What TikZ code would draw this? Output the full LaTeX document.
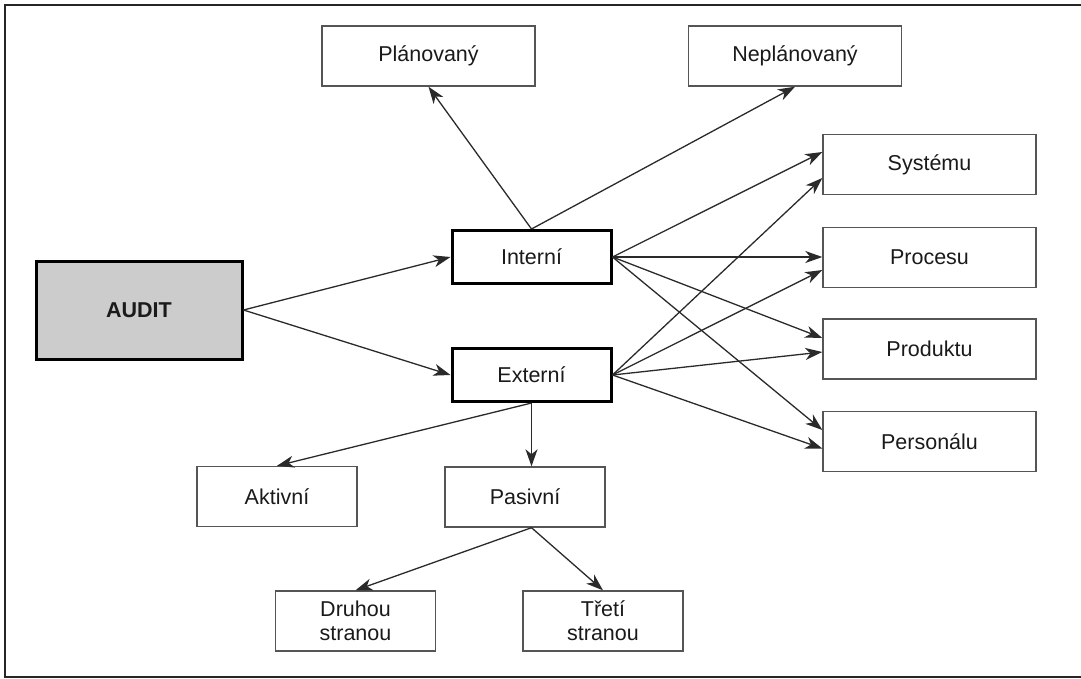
\documentclass[tikz,border=0pt]{standalone}
\usepackage{fontspec}
\setmainfont{Liberation Sans}
\usetikzlibrary{arrows.meta}
\definecolor{boxgray}{HTML}{555555}
\definecolor{linegray}{HTML}{2A2A2A}
\definecolor{txt}{HTML}{1A1A1A}
\begin{document}
\begin{tikzpicture}[x=1pt,y=-1pt,
  box/.style={draw=boxgray, line width=1.4pt, minimum width=213pt, minimum height=60pt,
    inner sep=0pt, font=\fontsize{21.5}{24}\selectfont, text=txt, align=center},
  smallbox/.style={box, minimum width=160pt},
  thickbox/.style={box, draw=black, line width=3pt, minimum width=159pt, minimum height=53pt},
  auditbox/.style={box, draw=black, line width=3pt, fill=gray!40, minimum width=206pt,
    minimum height=98pt, font=\fontsize{21.5}{24}\selectfont\bfseries},
  arr/.style={draw=linegray, line width=1.3pt, -{Stealth[length=17pt,width=12pt,inset=5pt]}},
  frame/.style={draw=black!85, line width=2pt}]
\useasboundingbox (0,0) rectangle (1081,678);
\draw[frame] (5,5) rectangle (1095,677);

\node[box] (plan) at (428.5,56) {Plánovaný};
\node[box] (neplan) at (795,56) {Neplánovaný};
\node[box] (sys) at (929.5,164.5) {Systému};
\node[box] (proc) at (929.5,257.5) {Procesu};
\node[box] (prod) at (929.5,349) {Produktu};
\node[box] (pers) at (929.5,441.5) {Personálu};
\node[auditbox] (audit) at (139,310) {AUDIT};
\node[thickbox] (int) at (531.5,257) {Interní};
\node[thickbox] (ext) at (531.5,375) {Externí};
\node[smallbox] (akt) at (277,496.5) {Aktivní};
\node[smallbox] (pas) at (525,497) {Pasivní};
\node[smallbox] (druh) at (355.5,621) {Druhou\\stranou};
\node[smallbox] (tret) at (603,621) {Třetí\\stranou};

\draw[arr] (audit.east) -- (int.west);
\draw[arr] (audit.east) -- (ext.west);

\draw[arr] (int.north) -- (plan.south);
\draw[arr] (int.north) -- (neplan.south);

\draw[arr] (int.east) -- ([yshift=12.5pt]sys.west);
\draw[arr] (int.east) -- (int.east -| proc.west);
\draw[arr] (int.east) -- ([yshift=11pt]prod.west);
\draw[arr] (int.east) -- ([yshift=11.5pt]pers.west);

\draw[arr] (ext.east) -- ([yshift=-13.5pt]sys.west);
\draw[arr] (ext.east) -- ([yshift=-12.5pt]proc.west);
\draw[arr] (ext.east) -- ([yshift=-3pt]prod.west);
\draw[arr] (ext.east) -- ([yshift=-7pt]pers.west);

\draw[arr] (ext.south) -- (akt.north);
\draw[arr] (ext.south) -- (ext.south |- pas.north);

\coordinate (pasout) at (ext.south |- pas.south);
\draw[arr] (pasout) -- (druh.north);
\draw[arr] (pasout) -- (tret.north);
\end{tikzpicture}
\end{document}
